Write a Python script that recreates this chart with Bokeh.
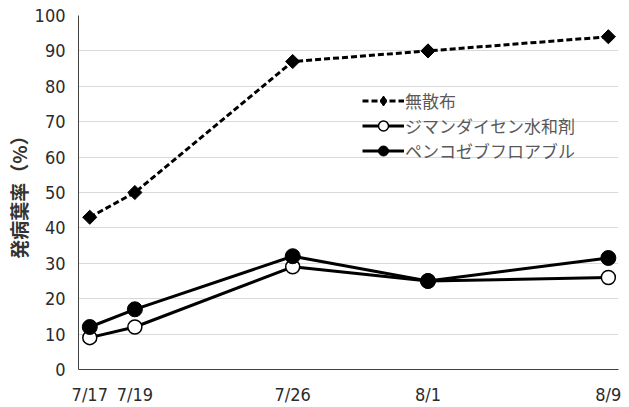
import datetime as dt
from bokeh.plotting import figure
from bokeh.models import Range1d, FixedTicker, Legend, LegendItem, Title
from bokeh.embed import file_html
from bokeh.resources import INLINE

# ---- data ----
dates = ["7/17", "7/19", "7/26", "8/1", "8/9"]
series_names = ["無散布", "ジマンダイセン水和剤", "ペンコゼブフロアブル"]
no_spray = [43, 50, 87, 90, 94]
zimandaisen = [9, 12, 29, 25, 26]
pencozeb = [12, 17, 32, 25, 31.5]
y_ticks = [0, 10, 20, 30, 40, 50, 60, 70, 80, 90, 100]
y_title = "発病葉率（%）"

def day_num(s):
    m, d = s.split("/")
    return (dt.date(2000, int(m), int(d)) - dt.date(2000, 7, 17)).days

x = [day_num(s) for s in dates]

NUM_FONT = "'DejaVu Sans Condensed', 'Liberation Sans', sans-serif"
JP_FONT = "Noto Sans CJK JP"

p = figure(width=629, height=407, output_backend="svg", toolbar_location=None,
           x_range=Range1d(x[0] - 0.5, x[-1] + 0.45), y_range=Range1d(0, 100),
           min_border_left=78, min_border_right=11, min_border_top=15, min_border_bottom=37)
p.outline_line_color = None
p.background_fill_color = "white"
p.border_fill_color = "white"

# grid
p.xgrid.grid_line_color = None
p.ygrid.grid_line_color = "#d9d9d9"
p.ygrid.grid_line_width = 1

# axes
p.xaxis.ticker = FixedTicker(ticks=x)
p.xaxis.major_label_overrides = {xi: s for xi, s in zip(x, dates)}
p.yaxis.ticker = FixedTicker(ticks=y_ticks)
for ax in (p.xaxis[0], p.yaxis[0]):
    ax.major_tick_line_color = None
    ax.minor_tick_line_color = None
    ax.major_tick_in = 0
    ax.major_tick_out = 0
    ax.axis_line_color = "#404040"
    ax.axis_line_width = 1
    ax.major_label_text_font = NUM_FONT
    ax.major_label_text_font_size = "18px"
    ax.major_label_text_color = "#2b2b2b"
p.xaxis.major_label_standoff = 14
p.yaxis.major_label_standoff = 13

# y-axis title as a left-side title panel (offset shifts it up)
ytitle = Title(text=y_title, align="center", offset=20, standoff=0,
               text_font=JP_FONT, text_font_size="19px", text_font_style="bold",
               text_color="#333333")
p.add_layout(ytitle, "left")

# series
l1 = p.line(x, no_spray, line_color="black", line_width=3, line_dash="6 3")
# diamond-shaped copy (hidden under the rotated squares) used as the legend glyph
m1_leg = p.scatter(x, no_spray, marker="diamond", size=12,
                   fill_color="black", line_color="black")
m1 = p.scatter(x, no_spray, marker="square", angle=0.785398, size=10,
               fill_color="black", line_color="black")
l2 = p.line(x, zimandaisen, line_color="black", line_width=3)
m2 = p.scatter(x, zimandaisen, marker="circle", size=14,
               fill_color="white", line_color="black", line_width=1.5)
l3 = p.line(x, pencozeb, line_color="black", line_width=3)
m3 = p.scatter(x, pencozeb, marker="circle", size=15,
               fill_color="black", line_color="black")

legend = Legend(items=[
    LegendItem(label=series_names[0], renderers=[l1, m1_leg]),
    LegendItem(label=series_names[1], renderers=[l2, m2]),
    LegendItem(label=series_names[2], renderers=[l3, m3]),
], location=(284, 206))
legend.background_fill_alpha = 0
legend.border_line_color = None
legend.padding = 0
legend.margin = 0
legend.spacing = 0
legend.glyph_width = 42
legend.glyph_height = 25
legend.label_height = 25
legend.label_standoff = 1
legend.label_text_font = JP_FONT
legend.label_text_font_size = "17px"
legend.label_text_color = "#595959"
p.add_layout(legend, "center")

open("out.html", "w").write(file_html(p, INLINE))
